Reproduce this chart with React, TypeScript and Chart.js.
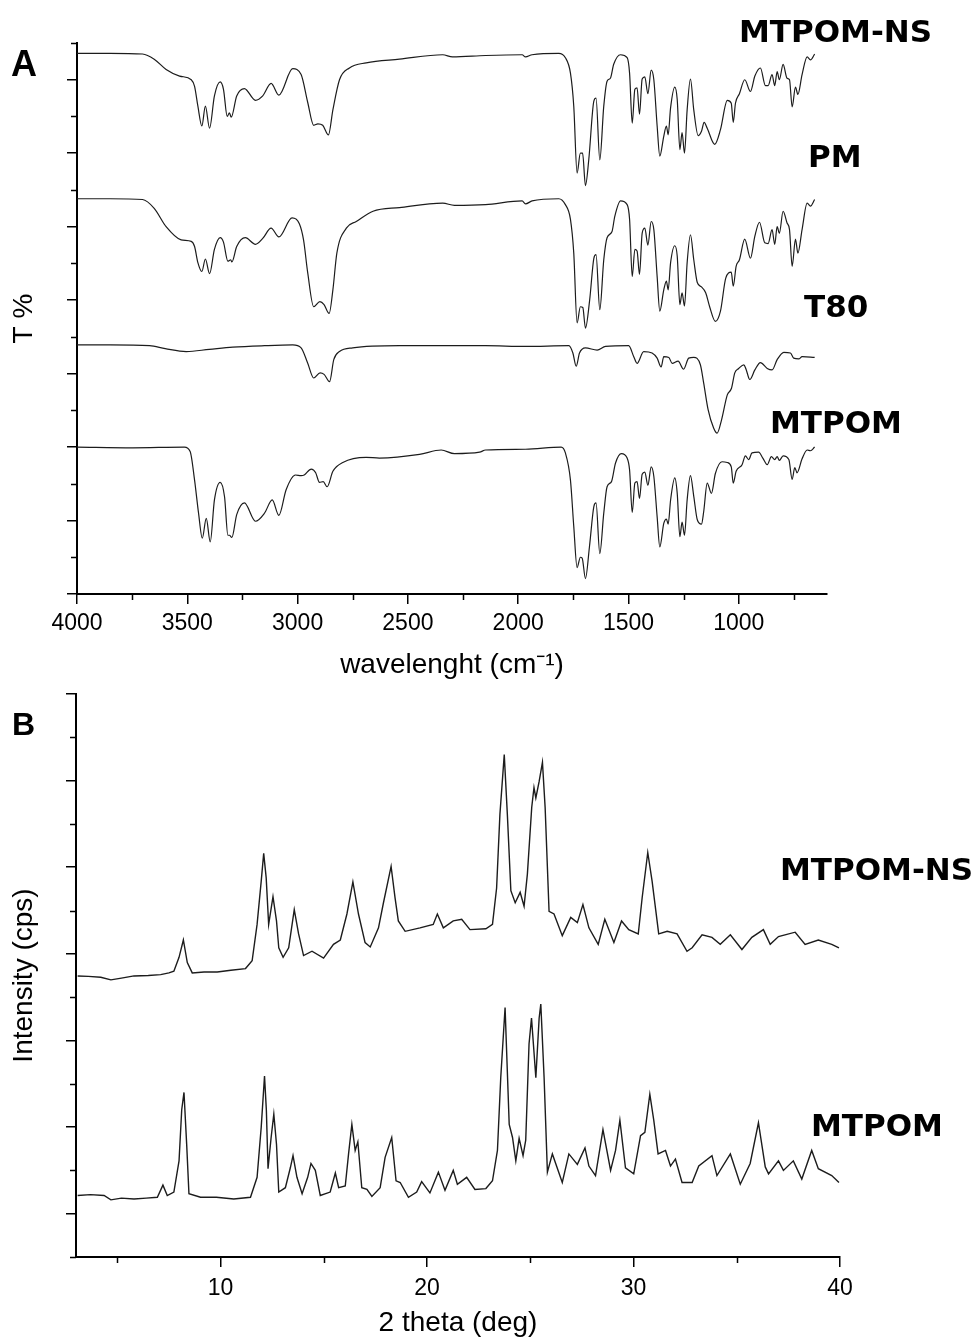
import React, { useEffect, useRef } from 'react';
import Chart from 'chart.js/auto';

// ---------- Panel A : FTIR (wavenumber cm-1, offset T % units) ----------
const FTIR_X_TICKS = [1000, 1500, 2000, 2500, 3000, 3500, 4000];
const FTIR_X_MINOR = [750, 1250, 1750, 2250, 2750, 3250, 3750];
const FTIR_Y_MAJOR = [0, 1, 2, 3, 4, 5, 6, 7];
const FTIR_Y_MINOR = [0.5, 1.5, 2.5, 3.5, 4.5, 5.5, 6.5, 7.5];

const FTIR_MTPOM_NS: [number, number][] = [
  [4000, 7.36], [3850, 7.36], [3703, 7.35], [3650, 7.28], [3596, 7.14], [3535, 7.05], [3482, 7.0], [3467, 6.91],
  [3452, 6.64], [3434, 6.37], [3418, 6.64], [3399, 6.34], [3377, 6.78], [3351, 6.97], [3336, 6.87], [3319, 6.5],
  [3309, 6.55], [3301, 6.49], [3276, 6.78], [3241, 6.88], [3191, 6.72], [3158, 6.78], [3120, 6.95], [3085, 6.79],
  [3022, 7.15], [2984, 7.07], [2954, 6.69], [2927, 6.38], [2908, 6.4], [2886, 6.38], [2860, 6.25], [2840, 6.59],
  [2810, 7.0], [2765, 7.16], [2689, 7.23], [2538, 7.28], [2342, 7.34], [2298, 7.31], [2148, 7.33], [1982, 7.34],
  [1967, 7.31], [1937, 7.34], [1816, 7.36], [1786, 7.3], [1763, 7.09], [1748, 6.64], [1733, 5.73], [1718, 6.0],
  [1708, 6.0], [1695, 5.56], [1680, 5.91], [1657, 6.71], [1647, 6.75], [1630, 5.91], [1612, 6.64], [1597, 6.98],
  [1582, 7.02], [1567, 7.21], [1536, 7.34], [1506, 7.3], [1495, 7.09], [1483, 6.41], [1471, 6.87], [1461, 6.89],
  [1450, 6.53], [1438, 7.01], [1426, 7.04], [1412, 6.81], [1397, 7.13], [1385, 7.0], [1370, 6.37], [1358, 5.96],
  [1340, 6.23], [1328, 6.37], [1320, 6.25], [1309, 6.62], [1290, 6.9], [1279, 6.73], [1267, 6.05], [1257, 6.28],
  [1246, 6.0], [1234, 6.59], [1219, 7.01], [1204, 6.59], [1184, 6.24], [1169, 6.3], [1157, 6.42], [1143, 6.34],
  [1109, 6.12], [1083, 6.32], [1052, 6.72], [1034, 6.68], [1025, 6.42], [1015, 6.68], [997, 6.81], [973, 7.0],
  [947, 6.84], [927, 7.05], [902, 7.16], [879, 6.92], [867, 6.92], [849, 7.07], [837, 6.92], [826, 7.11],
  [816, 7.0], [799, 7.21], [781, 7.02], [770, 7.0], [758, 6.63], [743, 6.9], [732, 6.8], [713, 7.07],
  [690, 7.31], [675, 7.27], [656, 7.35],
];

const FTIR_PM: [number, number][] = [
  [4000, 5.38], [3850, 5.38], [3703, 5.37], [3650, 5.25], [3596, 5.0], [3528, 4.82], [3482, 4.8], [3467, 4.73],
  [3452, 4.51], [3434, 4.39], [3418, 4.56], [3399, 4.36], [3377, 4.69], [3351, 4.85], [3336, 4.79], [3316, 4.53],
  [3303, 4.55], [3298, 4.52], [3276, 4.73], [3237, 4.85], [3191, 4.76], [3158, 4.84], [3120, 4.98], [3085, 4.86],
  [3025, 5.12], [2992, 5.04], [2973, 4.82], [2954, 4.37], [2927, 3.91], [2899, 3.98], [2880, 3.94], [2857, 3.82],
  [2840, 4.14], [2822, 4.64], [2779, 4.98], [2734, 5.07], [2658, 5.21], [2538, 5.26], [2342, 5.32], [2289, 5.29],
  [2148, 5.3], [1982, 5.35], [1967, 5.31], [1937, 5.35], [1816, 5.38], [1786, 5.3], [1763, 5.1], [1748, 4.64],
  [1733, 3.69], [1718, 3.91], [1707, 3.9], [1695, 3.62], [1676, 4.0], [1657, 4.57], [1647, 4.62], [1630, 3.87],
  [1612, 4.55], [1597, 4.85], [1575, 4.93], [1562, 5.14], [1536, 5.35], [1506, 5.3], [1495, 5.1], [1483, 4.32],
  [1471, 4.69], [1461, 4.67], [1450, 4.35], [1438, 4.91], [1426, 4.98], [1412, 4.75], [1397, 5.07], [1385, 4.96],
  [1370, 4.32], [1358, 3.85], [1340, 4.14], [1328, 4.26], [1320, 4.14], [1309, 4.51], [1290, 4.74], [1279, 4.6],
  [1267, 3.94], [1257, 4.1], [1246, 3.92], [1234, 4.51], [1219, 4.89], [1204, 4.55], [1188, 4.24], [1169, 4.18],
  [1150, 4.1], [1132, 3.91], [1106, 3.71], [1083, 3.85], [1059, 4.3], [1034, 4.38], [1025, 4.19], [1012, 4.46],
  [997, 4.55], [973, 4.83], [947, 4.57], [927, 4.87], [906, 5.06], [882, 4.78], [867, 4.77], [849, 4.96],
  [837, 4.76], [826, 5.0], [816, 4.91], [799, 5.21], [781, 5.05], [770, 4.96], [758, 4.46], [743, 4.83],
  [732, 4.64], [713, 4.96], [690, 5.32], [675, 5.28], [656, 5.37],
];

const FTIR_T80: [number, number][] = [
  [4000, 3.39], [3850, 3.39], [3671, 3.38], [3600, 3.34], [3505, 3.3], [3400, 3.33], [3294, 3.36], [3150, 3.38],
  [3022, 3.39], [2984, 3.35], [2954, 3.14], [2927, 2.94], [2898, 3.01], [2880, 2.99], [2855, 2.89], [2836, 3.19],
  [2810, 3.3], [2750, 3.35], [2538, 3.38], [2148, 3.38], [1967, 3.37], [1770, 3.38], [1752, 3.28], [1737, 3.1],
  [1722, 3.28], [1695, 3.35], [1642, 3.32], [1604, 3.37], [1499, 3.38], [1476, 3.23], [1461, 3.14], [1431, 3.3],
  [1393, 3.28], [1370, 3.21], [1352, 3.09], [1340, 3.23], [1317, 3.22], [1302, 3.14], [1275, 3.17], [1250, 3.06],
  [1227, 3.21], [1204, 3.22], [1174, 3.12], [1159, 2.87], [1139, 2.51], [1114, 2.26], [1098, 2.19], [1078, 2.37],
  [1052, 2.71], [1033, 2.8], [1018, 3.01], [1000, 3.07], [977, 3.12], [967, 3.06], [950, 2.92], [927, 3.05],
  [902, 3.15], [871, 3.07], [849, 3.05], [826, 3.19], [796, 3.29], [766, 3.28], [751, 3.21], [728, 3.2],
  [713, 3.23], [656, 3.22],
];

const FTIR_MTPOM: [number, number][] = [
  [4000, 2.0], [3747, 1.99], [3513, 2.0], [3487, 1.94], [3467, 1.55], [3449, 1.1], [3432, 0.76], [3414, 1.03],
  [3396, 0.71], [3377, 1.28], [3351, 1.52], [3331, 1.32], [3316, 0.8], [3309, 0.8], [3298, 0.77], [3276, 1.08],
  [3241, 1.24], [3191, 0.99], [3150, 1.1], [3115, 1.28], [3085, 1.07], [3052, 1.42], [3010, 1.62], [2984, 1.61],
  [2970, 1.62], [2938, 1.7], [2918, 1.65], [2901, 1.52], [2884, 1.53], [2866, 1.46], [2840, 1.67], [2795, 1.79],
  [2689, 1.86], [2629, 1.85], [2447, 1.9], [2349, 1.96], [2289, 1.91], [2175, 1.93], [2148, 1.96], [1967, 1.97],
  [1805, 2.0], [1786, 1.92], [1763, 1.55], [1748, 0.92], [1733, 0.36], [1718, 0.5], [1710, 0.49], [1695, 0.21],
  [1677, 0.64], [1657, 1.19], [1647, 1.24], [1630, 0.55], [1612, 1.1], [1597, 1.46], [1577, 1.53], [1559, 1.78],
  [1532, 1.91], [1506, 1.85], [1495, 1.69], [1483, 1.11], [1471, 1.51], [1461, 1.53], [1450, 1.3], [1438, 1.63],
  [1426, 1.66], [1412, 1.48], [1397, 1.73], [1385, 1.6], [1370, 1.05], [1358, 0.64], [1340, 0.96], [1328, 1.02],
  [1320, 0.95], [1309, 1.28], [1290, 1.58], [1279, 1.37], [1267, 0.78], [1257, 0.98], [1246, 0.8], [1234, 1.28],
  [1219, 1.61], [1204, 1.33], [1188, 1.01], [1169, 0.95], [1159, 1.12], [1143, 1.51], [1124, 1.37], [1106, 1.64],
  [1076, 1.8], [1052, 1.79], [1034, 1.73], [1025, 1.51], [1012, 1.67], [985, 1.76], [970, 1.88], [955, 1.83],
  [940, 1.92], [910, 1.93], [891, 1.85], [871, 1.76], [852, 1.87], [837, 1.83], [826, 1.87], [816, 1.82],
  [799, 1.88], [773, 1.83], [758, 1.56], [746, 1.72], [736, 1.65], [713, 1.84], [690, 1.96], [675, 1.95],
  [656, 2.0],
];

// ---------- Panel B : XRD (2 theta deg, offset intensity units) ----------
const XRD_X_TICKS = [10, 20, 30, 40];
const XRD_X_MINOR = [5, 15, 25, 35];
const XRD_Y_MAJOR = [0, 1, 2, 3, 4, 5, 6];
const XRD_Y_MINOR = [-0.5, 0.5, 1.5, 2.5, 3.5, 4.5, 5.5];

const XRD_MTPOM_NS: [number, number][] = [
  [3.08, 2.745], [3.6, 2.74], [4.2, 2.73], [4.69, 2.7], [5.2, 2.72], [5.81, 2.745], [6.5, 2.75], [7.1, 2.76],
  [7.5, 2.78], [7.74, 2.8], [7.99, 2.96], [8.2, 3.16], [8.39, 2.9], [8.63, 2.78], [9.2, 2.79], [9.84, 2.79],
  [10.5, 2.81], [11.21, 2.83], [11.53, 2.92], [11.77, 3.34], [11.97, 3.84], [12.09, 4.16], [12.21, 3.88], [12.33, 3.34],
  [12.54, 3.66], [12.71, 3.38], [12.82, 3.07], [13.03, 2.96], [13.3, 3.07], [13.57, 3.51], [13.78, 3.23], [14.02, 2.98],
  [14.43, 3.03], [14.99, 2.95], [15.47, 3.11], [15.8, 3.16], [16.12, 3.46], [16.41, 3.83], [16.68, 3.46], [17.0, 3.13],
  [17.25, 3.08], [17.65, 3.3], [17.89, 3.59], [18.26, 4.01], [18.45, 3.65], [18.61, 3.38], [18.94, 3.26], [19.66, 3.3],
  [20.3, 3.34], [20.5, 3.46], [20.79, 3.3], [21.27, 3.38], [21.68, 3.4], [22.08, 3.28], [22.85, 3.29], [23.17, 3.34],
  [23.37, 3.76], [23.53, 4.61], [23.74, 5.3], [23.89, 4.61], [24.06, 3.73], [24.27, 3.59], [24.51, 3.71], [24.7, 3.55],
  [24.86, 3.92], [25.07, 4.69], [25.18, 4.92], [25.27, 4.8], [25.43, 4.99], [25.59, 5.21], [25.72, 4.69], [25.91, 3.49],
  [26.15, 3.46], [26.55, 3.21], [26.96, 3.42], [27.28, 3.36], [27.55, 3.57], [27.84, 3.3], [28.29, 3.11], [28.61, 3.4],
  [29.05, 3.13], [29.42, 3.38], [29.77, 3.28], [30.23, 3.23], [30.42, 3.65], [30.69, 4.17], [30.9, 3.84], [31.22, 3.23],
  [31.63, 3.26], [32.11, 3.23], [32.59, 3.03], [32.84, 3.07], [33.32, 3.22], [33.8, 3.19], [34.2, 3.11], [34.69, 3.22],
  [35.25, 3.05], [35.73, 3.19], [36.29, 3.28], [36.62, 3.11], [37.02, 3.2], [37.83, 3.25], [38.31, 3.11], [38.95, 3.16],
  [39.6, 3.11], [39.95, 3.07],
];

const XRD_MTPOM: [number, number][] = [
  [3.08, 0.21], [3.7, 0.22], [4.36, 0.21], [4.69, 0.16], [5.2, 0.18], [5.81, 0.17], [6.4, 0.18], [6.94, 0.19],
  [7.21, 0.33], [7.42, 0.21], [7.74, 0.25], [7.99, 0.61], [8.12, 1.2], [8.23, 1.4], [8.36, 0.8], [8.47, 0.23],
  [9.03, 0.19], [9.8, 0.19], [10.64, 0.17], [11.45, 0.19], [11.77, 0.42], [11.97, 1.0], [12.13, 1.59], [12.22, 1.19],
  [12.3, 0.52], [12.45, 0.88], [12.58, 1.15], [12.71, 0.8], [12.82, 0.25], [13.14, 0.3], [13.38, 0.53], [13.51, 0.67],
  [13.7, 0.42], [13.95, 0.23], [14.22, 0.42], [14.38, 0.58], [14.59, 0.5], [14.83, 0.21], [15.31, 0.25], [15.56, 0.47],
  [15.72, 0.3], [16.04, 0.32], [16.2, 0.69], [16.36, 1.03], [16.52, 0.73], [16.65, 0.83], [16.84, 0.3], [17.09, 0.28],
  [17.33, 0.2], [17.73, 0.3], [17.97, 0.65], [18.29, 0.88], [18.5, 0.38], [18.7, 0.36], [19.1, 0.19], [19.5, 0.25],
  [19.74, 0.37], [20.14, 0.24], [20.55, 0.48], [20.87, 0.27], [21.27, 0.5], [21.47, 0.34], [21.92, 0.42], [22.32, 0.28],
  [22.85, 0.29], [23.17, 0.38], [23.41, 0.73], [23.57, 1.57], [23.78, 2.38], [23.98, 1.03], [24.14, 0.88], [24.3, 0.61],
  [24.46, 0.87], [24.65, 0.67], [24.78, 0.85], [24.94, 1.96], [25.06, 2.26], [25.27, 1.57], [25.43, 2.26], [25.51, 2.42],
  [25.67, 1.57], [25.83, 0.48], [26.07, 0.69], [26.55, 0.36], [26.87, 0.69], [27.28, 0.57], [27.65, 0.76], [27.84, 0.55],
  [28.16, 0.44], [28.52, 0.97], [28.89, 0.5], [29.13, 0.73], [29.34, 1.08], [29.61, 0.53], [30.01, 0.46], [30.34, 0.9],
  [30.55, 0.94], [30.79, 1.38], [30.98, 1.08], [31.19, 0.69], [31.55, 0.73], [31.79, 0.55], [32.03, 0.63], [32.35, 0.36],
  [32.84, 0.36], [33.16, 0.55], [33.8, 0.67], [34.04, 0.44], [34.69, 0.69], [35.17, 0.34], [35.65, 0.58], [36.05, 1.05],
  [36.38, 0.54], [36.54, 0.46], [37.02, 0.61], [37.26, 0.5], [37.74, 0.61], [38.15, 0.4], [38.63, 0.73], [38.95, 0.52],
  [39.6, 0.44], [39.95, 0.36],
];

// ---------- styling ----------
const AXIS_FONT = '"Liberation Sans", Arial, sans-serif';
const LABEL_FONT = '"DejaVu Sans", Verdana, sans-serif';

type Label = { text: string; x: number; y: number; font: string };

function makeDecor(minorX: number[], minorY: number[], labels: Label[]) {
  return {
    id: 'decor',
    afterDraw(chart: any) {
      const ctx = chart.ctx as CanvasRenderingContext2D;
      const xs = chart.scales.x;
      const ys = chart.scales.y;
      const area = chart.chartArea;
      ctx.save();
      ctx.strokeStyle = '#000';
      ctx.lineWidth = 1.5;
      ctx.beginPath();
      for (const v of minorX) {
        const px = Math.round(xs.getPixelForValue(v)) + 0.5;
        ctx.moveTo(px, area.bottom);
        ctx.lineTo(px, area.bottom + 6);
      }
      for (const v of minorY) {
        const py = Math.round(ys.getPixelForValue(v)) + 0.5;
        ctx.moveTo(area.left, py);
        ctx.lineTo(area.left - 6, py);
      }
      ctx.stroke();
      ctx.fillStyle = '#000';
      ctx.textAlign = 'left';
      ctx.textBaseline = 'alphabetic';
      for (const l of labels) {
        ctx.font = l.font;
        ctx.fillText(l.text, l.x, l.y);
      }
      ctx.restore();
    },
  };
}

function series(label: string, pts: [number, number][], smooth: boolean) {
  return {
    label,
    data: pts.map(([x, y]) => ({ x, y })),
    borderColor: '#1c1c1c',
    borderWidth: smooth ? 1.2 : 1.4,
    pointRadius: 0,
    fill: false,
    tension: 0,
    cubicInterpolationMode: smooth ? 'monotone' : 'default',
  };
}

type PanelOpts = {
  datasets: any[];
  xMin: number;
  xMax: number;
  reverse: boolean;
  xTicks: number[];
  yMin: number;
  yMax: number;
  yMajor: number[];
  xTitle: string;
  yTitle: string;
  padding: { top: number; right: number; left: number; bottom: number };
  yWidth: number;
  xHeight: number;
  tickPad: number;
  xTitlePad: number;
  plugin: any;
};

function buildConfig(o: PanelOpts): any {
  const grid = {
    display: true,
    drawOnChartArea: false,
    drawTicks: true,
    tickLength: 10,
    tickWidth: 1.5,
    tickColor: '#000',
    lineWidth: 1.5,
    color: '#000',
  };
  const border = { display: true, color: '#000', width: 2 };
  return {
    type: 'line',
    data: { datasets: o.datasets },
    plugins: [o.plugin],
    options: {
      animation: false,
      responsive: false,
      events: [],
      parsing: true,
      layout: { padding: o.padding, autoPadding: false },
      plugins: { legend: { display: false }, tooltip: { enabled: false } },
      scales: {
        x: {
          type: 'linear',
          min: o.xMin,
          max: o.xMax,
          reverse: o.reverse,
          afterBuildTicks: (s: any) => {
            s.ticks = o.xTicks.map((v) => ({ value: v }));
          },
          afterFit: (s: any) => {
            s.height = o.xHeight;
          },
          ticks: {
            color: '#000',
            font: { family: AXIS_FONT, size: 23 },
            padding: o.tickPad,
            maxRotation: 0,
            autoSkip: false,
            callback: (v: any) => String(v),
          },
          grid,
          border,
          title: {
            display: true,
            text: o.xTitle,
            color: '#000',
            font: { family: AXIS_FONT, size: 28 },
            padding: { top: 0, bottom: o.xTitlePad },
          },
        },
        y: {
          type: 'linear',
          position: 'left',
          min: o.yMin,
          max: o.yMax,
          afterBuildTicks: (s: any) => {
            s.ticks = o.yMajor.map((v) => ({ value: v }));
          },
          afterFit: (s: any) => {
            s.width = o.yWidth;
          },
          ticks: { display: false },
          grid,
          border,
          title: {
            display: true,
            text: o.yTitle,
            color: '#000',
            font: { family: AXIS_FONT, size: 28 },
            padding: { top: 7, bottom: 0 },
          },
        },
      },
    },
  };
}

export default function App() {
  const refA = useRef<HTMLCanvasElement | null>(null);
  const refB = useRef<HTMLCanvasElement | null>(null);

  useEffect(() => {
    const labelsA: Label[] = [
      { text: 'A', x: 11, y: 76, font: `bold 36px ${AXIS_FONT}` },
      { text: 'MTPOM-NS', x: 739, y: 42, font: `bold 31px ${LABEL_FONT}` },
      { text: 'PM', x: 808, y: 167, font: `bold 31px ${LABEL_FONT}` },
      { text: 'T80', x: 804, y: 317, font: `bold 31px ${LABEL_FONT}` },
      { text: 'MTPOM', x: 770, y: 433, font: `bold 31px ${LABEL_FONT}` },
    ];
    const labelsB: Label[] = [
      { text: 'B', x: 12, y: 45, font: `bold 32px ${AXIS_FONT}` },
      { text: 'MTPOM-NS', x: 780, y: 190, font: `bold 31px ${LABEL_FONT}` },
      { text: 'MTPOM', x: 811, y: 446, font: `bold 31px ${LABEL_FONT}` },
    ];

    const chartA = new Chart(
      refA.current as HTMLCanvasElement,
      buildConfig({
        datasets: [
          series('MTPOM-NS', FTIR_MTPOM_NS, true),
          series('PM', FTIR_PM, true),
          series('T80', FTIR_T80, true),
          series('MTPOM', FTIR_MTPOM, true),
        ],
        xMin: 600,
        xMax: 4000,
        reverse: true,
        xTicks: FTIR_X_TICKS,
        yMin: 0,
        yMax: 7.5,
        yMajor: FTIR_Y_MAJOR,
        xTitle: 'wavelenght (cm\u207B\u00B9)',
        yTitle: 'T %',
        padding: { top: 43, right: 145, left: 0, bottom: 0 },
        yWidth: 77,
        xHeight: 96,
        tickPad: 6,
        xTitlePad: 8,
        plugin: makeDecor(FTIR_X_MINOR, FTIR_Y_MINOR, labelsA),
      })
    );

    const chartB = new Chart(
      refB.current as HTMLCanvasElement,
      buildConfig({
        datasets: [series('MTPOM-NS', XRD_MTPOM_NS, false), series('MTPOM', XRD_MTPOM, false)],
        xMin: 3,
        xMax: 40,
        reverse: false,
        xTicks: XRD_X_TICKS,
        yMin: -0.5,
        yMax: 6,
        yMajor: XRD_Y_MAJOR,
        xTitle: '2 theta (deg)',
        yTitle: 'Intensity (cps)',
        padding: { top: 4, right: 132, left: 0, bottom: 0 },
        yWidth: 76,
        xHeight: 87,
        tickPad: 8,
        xTitlePad: 4,
        plugin: makeDecor(XRD_X_MINOR, XRD_Y_MINOR, labelsB),
      })
    );

    return () => {
      chartA.destroy();
      chartB.destroy();
    };
  }, []);

  return (
    <div style={{ position: 'absolute', left: 0, top: 0, width: 972, height: 1344, background: '#fff' }}>
      <canvas
        ref={refA}
        width={972}
        height={690}
        style={{ position: 'absolute', left: 0, top: 0, width: 972, height: 690 }}
      />
      <canvas
        ref={refB}
        width={972}
        height={654}
        style={{ position: 'absolute', left: 0, top: 690, width: 972, height: 654 }}
      />
    </div>
  );
}
